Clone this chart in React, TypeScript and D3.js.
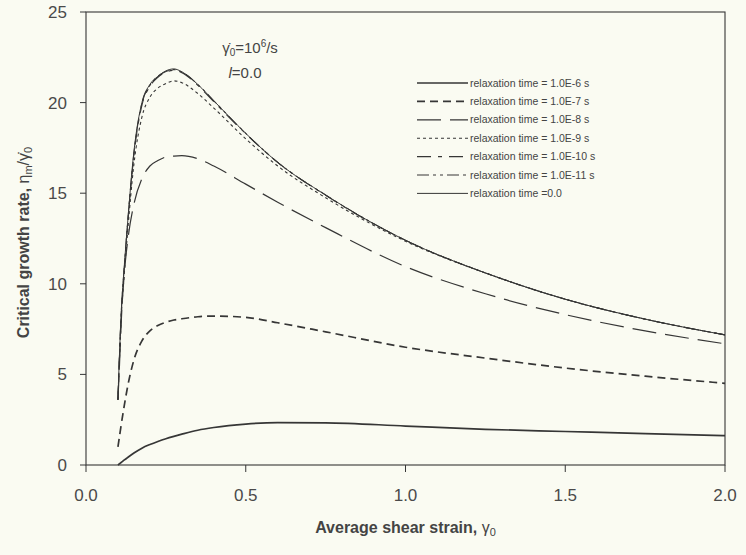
import React from "react";
import * as d3 from "d3";

const strain = [0.1, 0.105, 0.11, 0.12, 0.13, 0.15, 0.175, 0.2, 0.225, 0.25, 0.275, 0.3, 0.35, 0.4, 0.5, 0.6, 0.75, 1.0, 1.25, 1.5, 1.75, 2.0];

const tau1e6 = [0, 0.07, 0.14, 0.28, 0.41, 0.66, 0.93, 1.13, 1.3, 1.45, 1.58, 1.7, 1.92, 2.07, 2.26, 2.34, 2.33, 2.15, 1.97, 1.85, 1.73, 1.62];
const tau1e7 = [1.0, 1.6, 2.2, 3.3, 4.3, 5.8, 6.85, 7.4, 7.7, 7.88, 8.0, 8.07, 8.18, 8.22, 8.15, 7.85, 7.35, 6.5, 5.9, 5.35, 4.9, 4.51];
const tau1e8 = [3.6, 5.6, 7.8, 10.6, 12.3, 14.4, 15.8, 16.5, 16.8, 17.0, 17.05, 17.07, 16.9, 16.5, 15.5, 14.5, 13.1, 10.95, 9.45, 8.3, 7.4, 6.69];
const tau1e9 = [3.6, 5.9, 8.0, 10.6, 12.8, 16.6, 19.2, 20.3, 20.8, 21.05, 21.2, 21.1, 20.5, 19.7, 18.0, 16.5, 14.75, 12.35, 10.6, 9.15, 8.05, 7.18];
const tau1e10 = [3.6, 6.1, 8.2, 10.9, 13.2, 17.1, 19.85, 20.9, 21.4, 21.68, 21.78, 21.65, 20.95, 20.05, 18.28, 16.7, 14.88, 12.4, 10.6, 9.15, 8.05, 7.18];
const tau1e11 = [3.6, 6.2, 8.3, 11.0, 13.3, 17.2, 19.95, 20.95, 21.45, 21.72, 21.82, 21.68, 21.0, 20.1, 18.3, 16.7, 14.9, 12.4, 10.6, 9.15, 8.05, 7.18];
const tau0 = [3.6, 6.2, 8.3, 11.0, 13.3, 17.3, 20.0, 21.0, 21.45, 21.75, 21.86, 21.7, 21.0, 20.1, 18.3, 16.7, 14.9, 12.4, 10.6, 9.15, 8.05, 7.18];

const seriesLabels = [
  "relaxation time = 1.0E-6 s",
  "relaxation time = 1.0E-7 s",
  "relaxation time = 1.0E-8 s",
  "relaxation time = 1.0E-9 s",
  "relaxation time = 1.0E-10 s",
  "relaxation time = 1.0E-11 s",
  "relaxation time =0.0",
];
const seriesValues = [tau1e6, tau1e7, tau1e8, tau1e9, tau1e10, tau1e11, tau0];
const seriesDash = ["", "8,5", "24,9", "3,3", "14,7,4,7", "12,4,3,4,3,4", ""];
const seriesWidth = [1.7, 1.7, 1.2, 1.1, 1.1, 1.1, 1.0];

const xTicks = [0, 0.5, 1.0, 1.5, 2.0];
const yTicks = [0, 5, 10, 15, 20, 25];

const W = 746, H = 555;
const L = 86, R = 725, T = 12, B = 465;
const INK = "#363636";
const FONT = "'Liberation Sans', Arial, Helvetica, sans-serif";

export default function App() {
  const x = d3.scaleLinear().domain([0, 2]).range([L, R]);
  const y = d3.scaleLinear().domain([0, 25]).range([B, T]);
  const line = d3
    .line<[number, number]>()
    .x((d) => x(d[0]))
    .y((d) => y(d[1]))
    .curve(d3.curveMonotoneX);

  const legendX0 = 417, legendX1 = 468, legendY0 = 83, legendDy = 18.4;

  return (
    <svg width={W} height={H} style={{ position: "absolute", left: 0, top: 0, display: "block" }} fontFamily={FONT}>
      <rect x={0} y={0} width={W} height={H} fill="#fafbf2" />
      {/* frame */}
      <rect x={L} y={T} width={R - L} height={B - T} fill="none" stroke={INK} strokeWidth={1.1} />
      {/* y ticks */}
      {yTicks.map((t) => (
        <g key={"y" + t}>
          <line x1={L - 6} x2={L} y1={y(t)} y2={y(t)} stroke={INK} strokeWidth={1} />
          <text x={L - 19} y={y(t)} dy="0.35em" textAnchor="end" fontSize={17} fill="#4a4a4a">
            {t}
          </text>
        </g>
      ))}
      {/* x ticks */}
      {xTicks.map((t) => (
        <g key={"x" + t}>
          <line x1={x(t)} x2={x(t)} y1={B} y2={B + 7} stroke={INK} strokeWidth={1} />
          <text x={x(t)} y={B + 36} textAnchor="middle" fontSize={17} fill="#4a4a4a">
            {d3.format(".1f")(t)}
          </text>
        </g>
      ))}
      {/* axis titles */}
      <text x={(L + R) / 2} y={533} textAnchor="middle" fontSize={16} fontWeight="bold" fill="#444">
        Average shear strain,{" "}
        <tspan fontWeight="normal">γ</tspan>
        <tspan fontWeight="normal" fontSize={11} dy={3}>0</tspan>
      </text>
      <text
        transform={`translate(29, ${(T + B) / 2 + 4}) rotate(-90)`}
        textAnchor="middle"
        fontSize={16}
        fontWeight="bold"
        fill="#444"
      >
        Critical growth rate,{" "}
        <tspan fontWeight="normal">η</tspan>
        <tspan fontWeight="normal" fontSize={11} dy={3}>m</tspan>
        <tspan fontWeight="normal" dy={-3}>/γ̇</tspan>
        <tspan fontWeight="normal" fontSize={11} dy={3}>0</tspan>
      </text>
      {/* curves */}
      {seriesValues.map((vals, i) => (
        <path
          key={"s" + i}
          d={line(strain.map((s, j) => [s, vals[j]] as [number, number])) || ""}
          fill="none"
          stroke={INK}
          strokeWidth={seriesWidth[i]}
          strokeDasharray={seriesDash[i] || undefined}
        />
      ))}
      {/* annotation */}
      <text x={250} y={53} textAnchor="middle" fontSize={15} fill="#444">
        γ̇<tspan fontSize={10} dy={3}>0</tspan>
        <tspan dy={-3}>=10</tspan>
        <tspan fontSize={10} dy={-6}>6</tspan>
        <tspan dy={6}>/s</tspan>
      </text>
      <text x={245} y={78} textAnchor="middle" fontSize={15} fill="#444">
        <tspan fontStyle="italic">l</tspan>=0.0
      </text>
      {/* legend */}
      {seriesLabels.map((lab, i) => (
        <g key={"l" + i}>
          <line
            x1={legendX0}
            x2={legendX1}
            y1={legendY0 + i * legendDy}
            y2={legendY0 + i * legendDy}
            stroke={INK}
            strokeWidth={seriesWidth[i]}
            strokeDasharray={seriesDash[i] || undefined}
          />
          <text x={legendX1 + 2} y={legendY0 + i * legendDy} dy="0.35em" fontSize={10.5} fill="#444">
            {lab}
          </text>
        </g>
      ))}
    </svg>
  );
}
